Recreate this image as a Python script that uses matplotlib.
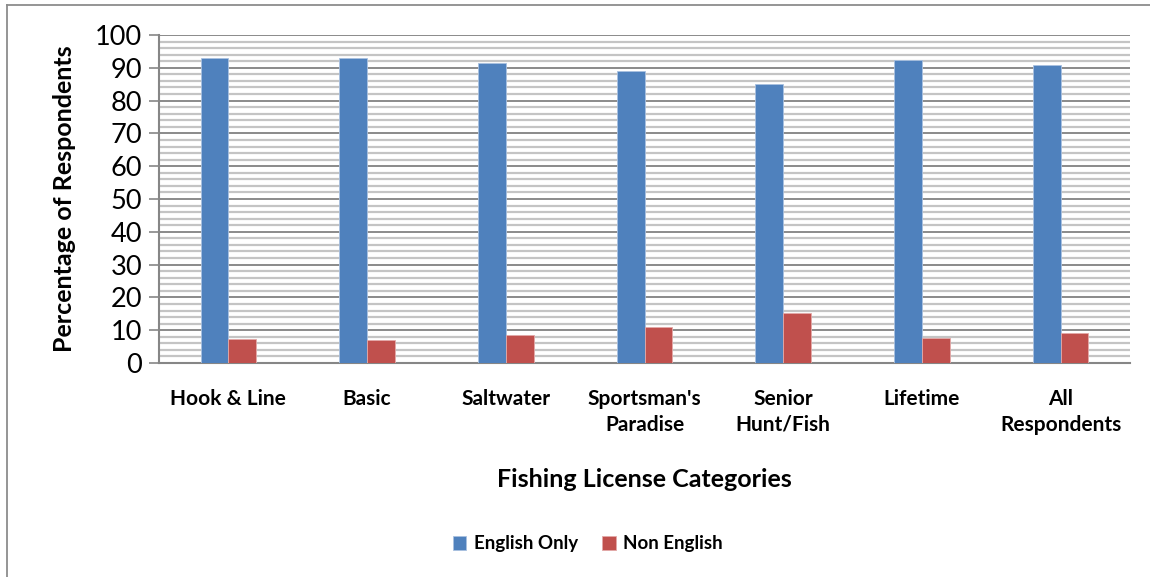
import numpy as np
import matplotlib
matplotlib.use("Agg")
import matplotlib.pyplot as plt
from matplotlib.lines import Line2D
from matplotlib.ticker import MultipleLocator

categories = ["Hook & Line", "Basic", "Saltwater", "Sportsman's\nParadise",
              "Senior\nHunt/Fish", "Lifetime", "All\nRespondents"]
english_only = [93.0, 93.1, 91.6, 89.0, 85.0, 92.3, 91.0]
non_english = [7.2, 7.0, 8.5, 11.1, 15.2, 7.7, 9.2]

plt.rcParams['font.family'] = ['Lato', 'DejaVu Sans']

fig = plt.figure(figsize=(11.5, 5.77), dpi=100)
ax = fig.add_axes([159 / 1150, 1 - 363 / 577, (1130 - 159) / 1150, (363 - 35) / 577])

# outer chart frame, only the top and left edges fall inside the image
fx, fy = 7 / 1150, 1 - 5 / 577
fig.lines.append(Line2D([fx, 1.0], [fy, fy], transform=fig.transFigure,
                        color='#8c8c8c', linewidth=1.3))
fig.lines.append(Line2D([fx, fx], [0.0, fy], transform=fig.transFigure,
                        color='#8c8c8c', linewidth=1.3))

x = np.arange(len(categories))
w = 0.2
ax.bar(x - w / 2, english_only, w, color='#4F81BD', edgecolor='#a9c1e0',
       linewidth=0.6, label='English Only', zorder=3)
ax.bar(x + w / 2, non_english, w, color='#C0504D', edgecolor='#e3a9a8',
       linewidth=0.6, label='Non English', zorder=3)

ax.set_xlim(-0.5, len(categories) - 0.5)
ax.set_ylim(0, 100)
ax.yaxis.set_major_locator(MultipleLocator(10))
ax.yaxis.set_minor_locator(MultipleLocator(2))
ax.grid(which='minor', axis='y', color='#c4c4c4', linewidth=1.6, zorder=0)
ax.grid(which='major', axis='y', color='#8a8a8a', linewidth=1.4, zorder=1)

for s in ['top', 'right']:
    ax.spines[s].set_visible(False)
for s in ['left', 'bottom']:
    ax.spines[s].set_color('#868686')
    ax.spines[s].set_linewidth(1.5)

ax.tick_params(axis='y', which='major', length=7, width=1.2, color='#868686',
               labelsize=19.5, pad=5)
ax.tick_params(axis='y', which='minor', length=0)
ax.tick_params(axis='x', length=0, pad=19)
ax.set_xticks(x)
ax.set_xticklabels(categories, fontsize=15, fontweight='bold', linespacing=1.35)

ax.set_ylabel('Percentage of Respondents', fontsize=18, fontweight='bold', labelpad=14)
ax.set_xlabel('Fishing License Categories', fontsize=18, fontweight='bold', labelpad=24)

fig.legend(loc='center', bbox_to_anchor=(588 / 1150, 1 - 544 / 577), ncol=2,
           frameon=False, prop={'size': 13.5, 'weight': 'bold'},
           handlelength=0.7, handleheight=0.7, handletextpad=0.4, columnspacing=1.3)

fig.savefig('out.png', dpi=100)
